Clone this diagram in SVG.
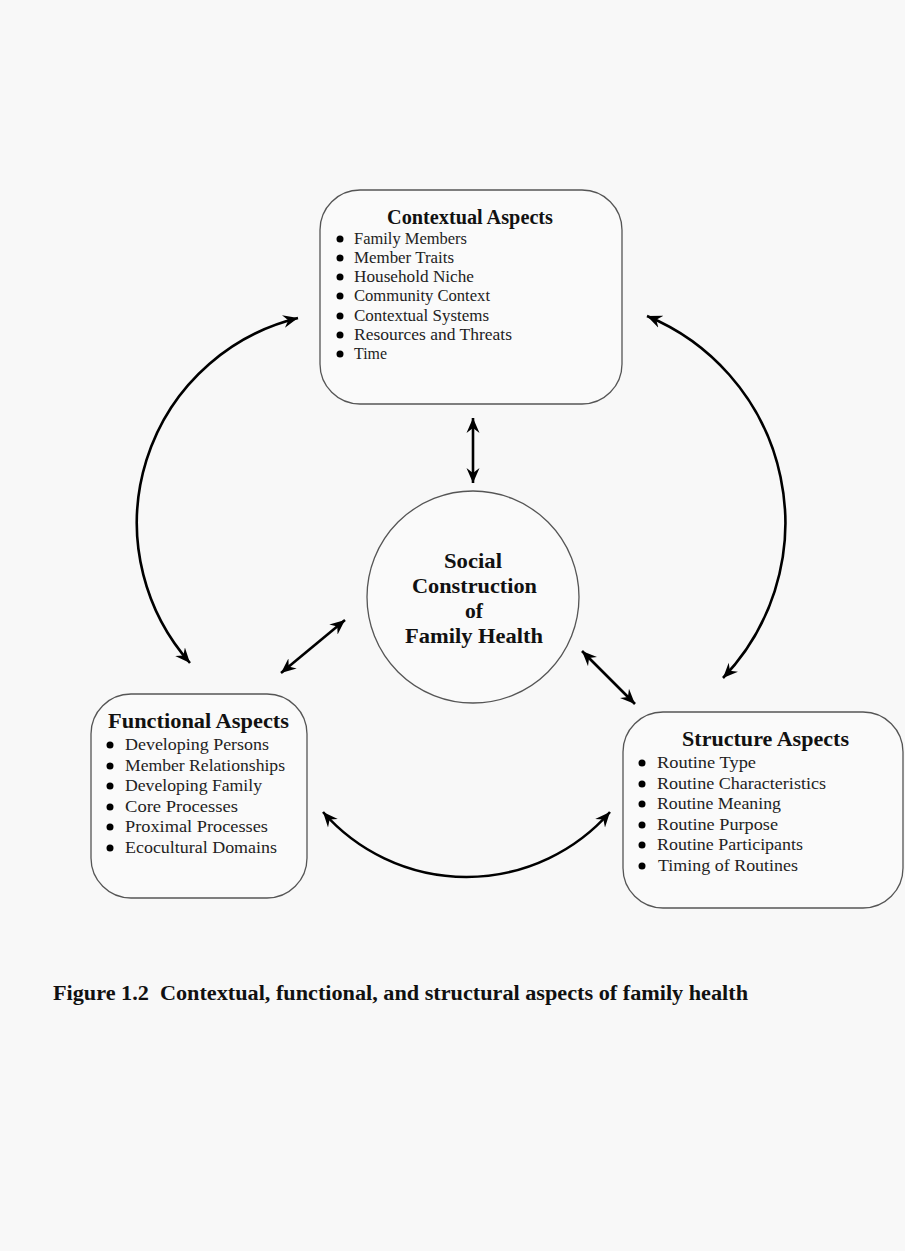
<svg xmlns="http://www.w3.org/2000/svg" width="905" height="1251" viewBox="0 0 905 1251">
<style>
.box{fill:#fafafa;stroke:#555;stroke-width:1.3}
text{lengthAdjust:spacingAndGlyphs}
.title{font-family:"Liberation Serif",serif;font-weight:bold;font-size:20px;fill:#111}
.item{font-family:"Liberation Serif",serif;font-size:17.5px;fill:#222}
.citem{font-family:"Liberation Serif",serif;font-size:17px;fill:#222}
.ctr{font-family:"Liberation Serif",serif;font-weight:bold;font-size:21px;fill:#111}
.cap{font-family:"Liberation Serif",serif;font-weight:bold;font-size:20.5px;fill:#111}
.conn{fill:none;stroke:#000;stroke-width:2.6;marker-start:url(#ah);marker-end:url(#ah)}
.b{fill:#000}
</style>
<defs>
<marker id="ah" markerUnits="userSpaceOnUse" markerWidth="18" markerHeight="14" refX="15" refY="7" orient="auto-start-reverse">
<path d="M0,0.5 L15,7 L0,13.5 L5,7 Z" fill="#000"/>
</marker>
</defs>
<rect width="905" height="1251" fill="#f8f8f8"/>
<g id="connectors">
<path class="conn" d="M298 318 A211 211 0 0 0 190 663"/>
<path class="conn" d="M647 316 A224 224 0 0 1 723 678"/>
<path class="conn" d="M323 812 A191 191 0 0 0 610 812"/>
<path class="conn" d="M473 418 L473 483"/>
<path class="conn" d="M345 620 L281 673"/>
<path class="conn" d="M582 651 L635 704"/>
</g>
<g id="contextual">
<rect class="box" x="320" y="190" width="302" height="214" rx="40"/>
<text class="title" x="387" y="224" textLength="166" lengthAdjust="spacingAndGlyphs">Contextual Aspects</text>
<circle class="b" cx="340" cy="239" r="3.5"/><text class="citem" x="354" y="244" textLength="113" lengthAdjust="spacingAndGlyphs">Family Members</text>
<circle class="b" cx="340" cy="258" r="3.5"/><text class="citem" x="354" y="263" textLength="100" lengthAdjust="spacingAndGlyphs">Member Traits</text>
<circle class="b" cx="340" cy="277" r="3.5"/><text class="citem" x="354" y="282" textLength="120" lengthAdjust="spacingAndGlyphs">Household Niche</text>
<circle class="b" cx="340" cy="296" r="3.5"/><text class="citem" x="354" y="301" textLength="136" lengthAdjust="spacingAndGlyphs">Community Context</text>
<circle class="b" cx="340" cy="316" r="3.5"/><text class="citem" x="354" y="321" textLength="135" lengthAdjust="spacingAndGlyphs">Contextual Systems</text>
<circle class="b" cx="340" cy="335" r="3.5"/><text class="citem" x="354" y="340" textLength="158" lengthAdjust="spacingAndGlyphs">Resources and Threats</text>
<circle class="b" cx="340" cy="354" r="3.5"/><text class="citem" x="354" y="359" textLength="33" lengthAdjust="spacingAndGlyphs">Time</text>
</g>
<g id="center">
<circle cx="473" cy="597" r="106" fill="#fafafa" stroke="#555" stroke-width="1.3"/>
<text class="ctr" x="444" y="568" textLength="58" lengthAdjust="spacingAndGlyphs">Social</text>
<text class="ctr" x="412" y="593" textLength="125" lengthAdjust="spacingAndGlyphs">Construction</text>
<text class="ctr" x="465" y="618" textLength="18" lengthAdjust="spacingAndGlyphs">of</text>
<text class="ctr" x="405" y="643" textLength="138" lengthAdjust="spacingAndGlyphs">Family Health</text>
</g>
<g id="functional">
<rect class="box" x="91" y="694" width="216" height="204" rx="40"/>
<text class="title" x="108" y="728" textLength="181" lengthAdjust="spacingAndGlyphs">Functional Aspects</text>
<circle class="b" cx="110" cy="745" r="3.5"/><text class="item" x="125" y="750" textLength="144" lengthAdjust="spacingAndGlyphs">Developing Persons</text>
<circle class="b" cx="110" cy="766" r="3.5"/><text class="item" x="125" y="771" textLength="160" lengthAdjust="spacingAndGlyphs">Member Relationships</text>
<circle class="b" cx="110" cy="786" r="3.5"/><text class="item" x="125" y="791" textLength="137" lengthAdjust="spacingAndGlyphs">Developing Family</text>
<circle class="b" cx="110" cy="807" r="3.5"/><text class="item" x="125" y="812" textLength="113" lengthAdjust="spacingAndGlyphs">Core Processes</text>
<circle class="b" cx="110" cy="827" r="3.5"/><text class="item" x="125" y="832" textLength="143" lengthAdjust="spacingAndGlyphs">Proximal Processes</text>
<circle class="b" cx="110" cy="848" r="3.5"/><text class="item" x="125" y="853" textLength="152" lengthAdjust="spacingAndGlyphs">Ecocultural Domains</text>
</g>
<g id="structure">
<rect class="box" x="623" y="712" width="280" height="196" rx="40"/>
<text class="title" x="682" y="746" textLength="167" lengthAdjust="spacingAndGlyphs">Structure Aspects</text>
<circle class="b" cx="642" cy="763" r="3.5"/><text class="item" x="657" y="768" textLength="99" lengthAdjust="spacingAndGlyphs">Routine Type</text>
<circle class="b" cx="642" cy="784" r="3.5"/><text class="item" x="657" y="789" textLength="169" lengthAdjust="spacingAndGlyphs">Routine Characteristics</text>
<circle class="b" cx="642" cy="804" r="3.5"/><text class="item" x="657" y="809" textLength="124" lengthAdjust="spacingAndGlyphs">Routine Meaning</text>
<circle class="b" cx="642" cy="825" r="3.5"/><text class="item" x="657" y="830" textLength="121" lengthAdjust="spacingAndGlyphs">Routine Purpose</text>
<circle class="b" cx="642" cy="845" r="3.5"/><text class="item" x="657" y="850" textLength="146" lengthAdjust="spacingAndGlyphs">Routine Participants</text>
<circle class="b" cx="642" cy="866" r="3.5"/><text class="item" x="658" y="871" textLength="140" lengthAdjust="spacingAndGlyphs">Timing of Routines</text>
</g>
<g id="caption">
<text class="cap" x="53" y="1000" xml:space="preserve" textLength="695" lengthAdjust="spacingAndGlyphs">Figure 1.2  Contextual, functional, and structural aspects of family health</text>
</g>
</svg>
